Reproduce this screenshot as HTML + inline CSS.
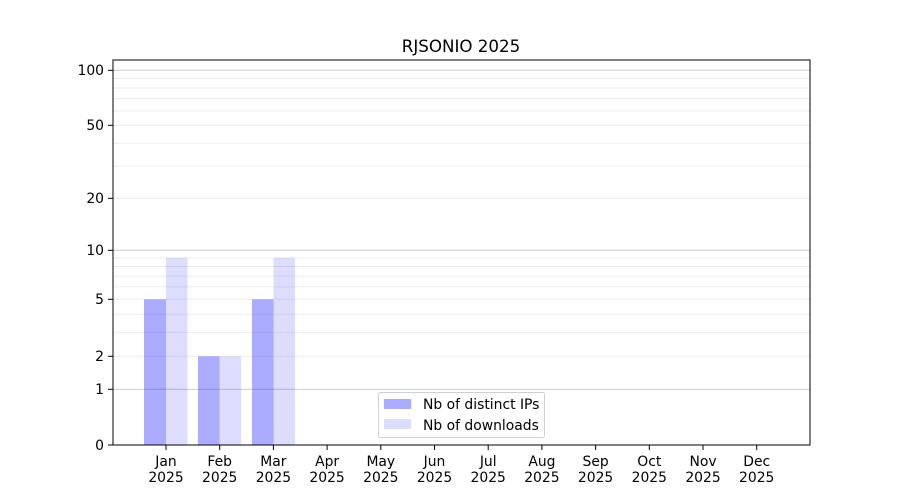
<!DOCTYPE html>
<html><head><meta charset="utf-8"><style>body{margin:0;background:#fff}svg{display:block}text{font-family:"DejaVu Sans","Liberation Sans",sans-serif;font-size:13.9px;fill:#000}</style></head><body>
<svg width="900" height="500" xmlns="http://www.w3.org/2000/svg">
<rect width="900" height="500" fill="#fff"/>
<g stroke="#ebebeb" stroke-width="1">
<line x1="113" x2="810" y1="356.3" y2="356.3"/><line x1="113" x2="810" y1="332.4" y2="332.4"/><line x1="113" x2="810" y1="314.2" y2="314.2"/><line x1="113" x2="810" y1="299.3" y2="299.3"/><line x1="113" x2="810" y1="286.9" y2="286.9"/><line x1="113" x2="810" y1="276.1" y2="276.1"/><line x1="113" x2="810" y1="266.5" y2="266.5"/><line x1="113" x2="810" y1="257.9" y2="257.9"/>
<line x1="113" x2="810" y1="198.3" y2="198.3"/><line x1="113" x2="810" y1="166" y2="166"/><line x1="113" x2="810" y1="143.3" y2="143.3"/><line x1="113" x2="810" y1="125.3" y2="125.3"/><line x1="113" x2="810" y1="111" y2="111"/><line x1="113" x2="810" y1="98.6" y2="98.6"/><line x1="113" x2="810" y1="88" y2="88"/><line x1="113" x2="810" y1="78.5" y2="78.5"/>
</g>
<g stroke="#cccccc" stroke-width="1">
<line x1="113" x2="810" y1="389.3" y2="389.3"/><line x1="113" x2="810" y1="250.3" y2="250.3"/><line x1="113" x2="810" y1="70.3" y2="70.3"/>
</g>
<g fill="#0000ff" fill-opacity="0.33">
<rect x="144" y="299.3" width="22" height="145.7"/><rect x="198" y="356.3" width="21.5" height="88.7"/><rect x="252" y="299.3" width="21.5" height="145.7"/>
</g>
<g fill="#0000ff" fill-opacity="0.135">
<rect x="166" y="257.9" width="21.5" height="187.1"/><rect x="219.5" y="356.3" width="21.5" height="88.7"/><rect x="273.5" y="257.9" width="21.5" height="187.1"/>
</g>
<rect x="113" y="60" width="697" height="385" fill="none" stroke="#000" stroke-width="1"/>
<g stroke="#000"><line x1="108" x2="113" y1="445" y2="445"/><line x1="108" x2="113" y1="389.3" y2="389.3"/><line x1="108" x2="113" y1="356.3" y2="356.3"/><line x1="108" x2="113" y1="299.3" y2="299.3"/><line x1="108" x2="113" y1="250.3" y2="250.3"/><line x1="108" x2="113" y1="198.3" y2="198.3"/><line x1="108" x2="113" y1="125.3" y2="125.3"/><line x1="108" x2="113" y1="70.3" y2="70.3"/></g>
<g text-anchor="end"><text x="104" y="450">0</text><text x="104" y="394">1</text><text x="104" y="361">2</text><text x="104" y="304">5</text><text x="104" y="255">10</text><text x="104" y="203">20</text><text x="104" y="130">50</text><text x="104" y="75">100</text></g>
<g stroke="#000">
<line x1="166" x2="166" y1="445" y2="450"/><line x1="219.7" x2="219.7" y1="445" y2="450"/><line x1="273.4" x2="273.4" y1="445" y2="450"/><line x1="327.1" x2="327.1" y1="445" y2="450"/><line x1="380.8" x2="380.8" y1="445" y2="450"/><line x1="434.5" x2="434.5" y1="445" y2="450"/><line x1="488.2" x2="488.2" y1="445" y2="450"/><line x1="541.9" x2="541.9" y1="445" y2="450"/><line x1="595.6" x2="595.6" y1="445" y2="450"/><line x1="649.3" x2="649.3" y1="445" y2="450"/><line x1="703" x2="703" y1="445" y2="450"/><line x1="756.7" x2="756.7" y1="445" y2="450"/>
</g>
<g text-anchor="middle">
<text x="166" y="466">Jan</text><text x="166" y="482">2025</text>
<text x="219.7" y="466">Feb</text><text x="219.7" y="482">2025</text>
<text x="273.4" y="466">Mar</text><text x="273.4" y="482">2025</text>
<text x="327.1" y="466">Apr</text><text x="327.1" y="482">2025</text>
<text x="380.8" y="466">May</text><text x="380.8" y="482">2025</text>
<text x="434.5" y="466">Jun</text><text x="434.5" y="482">2025</text>
<text x="488.2" y="466">Jul</text><text x="488.2" y="482">2025</text>
<text x="541.9" y="466">Aug</text><text x="541.9" y="482">2025</text>
<text x="595.6" y="466">Sep</text><text x="595.6" y="482">2025</text>
<text x="649.3" y="466">Oct</text><text x="649.3" y="482">2025</text>
<text x="703" y="466">Nov</text><text x="703" y="482">2025</text>
<text x="756.7" y="466">Dec</text><text x="756.7" y="482">2025</text>
<text x="461" y="52" style="font-size:16.7px">RJSONIO 2025</text>
</g>
<rect x="378.5" y="392.5" width="166" height="45" rx="2" fill="#fff" fill-opacity="0.8" stroke="#d0d0d0"/>
<rect x="384" y="399" width="27" height="10" fill="#0000ff" fill-opacity="0.33"/>
<rect x="384" y="419" width="27" height="10" fill="#0000ff" fill-opacity="0.135"/>
<text x="423" y="409">Nb of distinct IPs</text>
<text x="423" y="430">Nb of downloads</text>
</svg>
</body></html>
